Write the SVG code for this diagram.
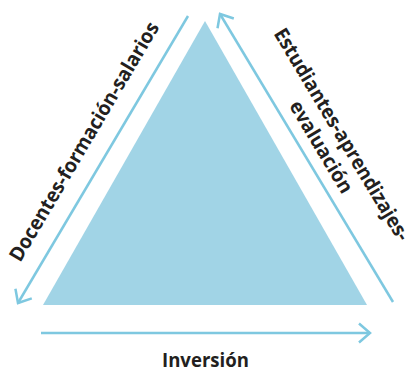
<svg xmlns="http://www.w3.org/2000/svg" width="411" height="370" viewBox="0 0 411 370">
<defs>
<style>
.edge{fill:none;stroke:#7ec8e0;stroke-width:2.5}
.lbl{font-family:"Open Sans","Noto Sans","Liberation Sans",sans-serif;font-weight:700;font-size:20px;fill:#231f20}
</style>
<marker id="arr" viewBox="-14 -12 16 24" markerWidth="16" markerHeight="24" refX="0" refY="0" orient="auto" markerUnits="userSpaceOnUse">
<path d="M-11,-9.5 L0,0 L-11,9.5" fill="none" stroke="#7ec8e0" stroke-width="2.5"/>
</marker>
</defs>
<rect width="411" height="370" fill="#ffffff"/>
<g id="triangle">
<polygon points="205,21 43,305 367,305" fill="#a1d4e6"/>
</g>
<g id="connectors">
<line class="edge" x1="188" y1="16" x2="18" y2="303" marker-end="url(#arr)"/>
<line class="edge" x1="393" y1="302" x2="220" y2="14" marker-end="url(#arr)"/>
<line class="edge" x1="41" y1="333" x2="370" y2="333" marker-end="url(#arr)"/>
</g>
<g id="label-docentes">
<text class="lbl" text-anchor="middle" textLength="274" lengthAdjust="spacingAndGlyphs" transform="translate(90,145) rotate(-59.4)">Docentes-formación-salarios</text>
</g>
<g id="label-estudiantes">
<text class="lbl" text-anchor="middle" transform="translate(336,138) rotate(59)"><tspan x="0" y="0" textLength="244" lengthAdjust="spacingAndGlyphs">Estudiantes-aprendizajes-</tspan><tspan x="0" y="24" textLength="104" lengthAdjust="spacingAndGlyphs">evaluación</tspan></text>
</g>
<g id="label-inversion">
<text class="lbl" text-anchor="middle" x="205.5" y="367" textLength="87" lengthAdjust="spacingAndGlyphs">Inversión</text>
</g>
</svg>
